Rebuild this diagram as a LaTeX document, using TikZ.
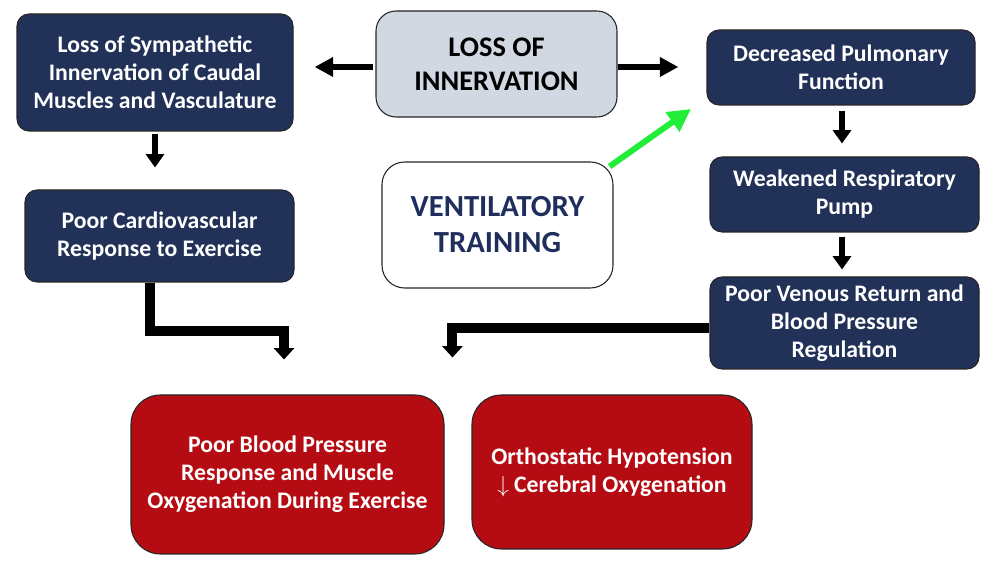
\documentclass[tikz,border=0pt]{standalone}
\usepackage{fontspec}
\setmainfont{Carlito}
\usetikzlibrary{arrows.meta,calc}
\definecolor{navy}{HTML}{213158}
\definecolor{boxred}{HTML}{B50C14}
\definecolor{lightgb}{HTML}{D2D8E2}
\definecolor{vtblue}{HTML}{1F2E5C}
\definecolor{brightgreen}{HTML}{22EE3A}
\tikzset{
  sz/.style 2 args={minimum width=#1*0.75pt, minimum height=#2*0.75pt},
  basebox/.style={draw=black!85, line width=0.8pt, inner sep=0pt, align=center, font=\bfseries},
  navybox/.style={basebox, fill=navy, text=white, rounded corners=9pt,
    font=\fontsize{17.8}{21}\selectfont\bfseries},
  redbox/.style={basebox, fill=boxred, text=white, rounded corners=22pt,
    font=\fontsize{17.8}{21}\selectfont\bfseries},
  greybox/.style={basebox, fill=lightgb, text=black, rounded corners=15pt,
    font=\fontsize{21.3}{25.5}\selectfont\bfseries},
  whitebox/.style={basebox, fill=white, text=vtblue, rounded corners=17pt,
    font=\fontsize{23}{27}\selectfont\bfseries},
  harrow/.style={draw=black, line width=5pt, -{Triangle[length=14pt,width=14pt]}},
  varrow/.style={draw=black, line width=5pt, -{Triangle[length=10pt,width=13.5pt]}},
  elbow/.style={draw=black, line width=7.5pt, -{Triangle[length=8.5pt,width=15pt]}},
  garrow/.style={draw=brightgreen, line width=4.5pt, -{Triangle[length=17pt,width=17pt]}},
}
\begin{document}
\begin{tikzpicture}[x=0.75pt,y=-0.75pt]
\useasboundingbox (0,0) rectangle (1008,580);
\fill[white] (0,0) rectangle (1008,580);

\node[navybox, sz={276}{117}] (A) at (155,72.5) {Loss of Sympathetic\\Innervation of Caudal\\Muscles and Vasculature};
\node[navybox, sz={269}{92}] (B) at (159.5,236) {Poor Cardiovascular\\Response to Exercise};
\node[greybox, sz={241}{106}] (LOI) at (496.5,64) {LOSS OF\\INNERVATION};
\node[whitebox, sz={231}{126}] (VT) at (497.5,225) {VENTILATORY\\TRAINING};
\node[navybox, sz={268}{75}] (DPF) at (841,67.5) {Decreased Pulmonary\\Function};
\node[navybox, sz={269}{75}] (WRP) at (844.5,194.5) {Weakened Respiratory\\Pump};
\node[navybox, sz={269}{92}] (PVR) at (844.5,323) {Poor Venous Return and\\Blood Pressure\\Regulation};
\node[redbox, sz={313}{159}] (R1) at (287.5,474.5) {Poor Blood Pressure\\Response and Muscle\\Oxygenation During Exercise};
\node[redbox, sz={280}{154}] (R2) at (612,472) {Orthostatic Hypotension\\$\downarrow$ Cerebral Oxygenation};

% horizontal arrows from LOSS OF INNERVATION
\draw[harrow, shorten <=1.5pt, shorten >=15.75pt] ($(LOI.west)+(0,3)$) -- ($(A.east)+(0,-5.5)$);
\draw[harrow, shorten >=21pt] ($(LOI.east)+(0,3)$) -- ($(DPF.west)+(0,-0.5)$);

% vertical arrows
\draw[varrow, shorten <=1.5pt, shorten >=16.5pt] (A.south) -- (A.south |- B.north);
\draw[varrow, shorten <=3.75pt, shorten >=9.75pt] ($(DPF.south)+(1,0)$) -- ($(DPF.south |- WRP.north)+(1,0)$);
\draw[varrow, shorten <=3pt, shorten >=5.25pt] ($(WRP.south)+(-2.5,0)$) -- ($(WRP.south |- PVR.north)+(-2.5,0)$);

% elbow arrows
\draw[elbow, shorten >=26.25pt] ($(B.south)+(-9.5,0)$) -- ++(0,48) -| ($(R1.north)+(-3.5,0)$);
\draw[elbow, shorten >=27.75pt] ($(PVR.west)+(0,5)$) -| ($(R2.north west)+(-19,0)$);

% green arrow
\coordinate (gtip) at (691,109);
\draw[garrow] ($(VT.north east)+(-4,5)$) -- (gtip);
\end{tikzpicture}
\end{document}
